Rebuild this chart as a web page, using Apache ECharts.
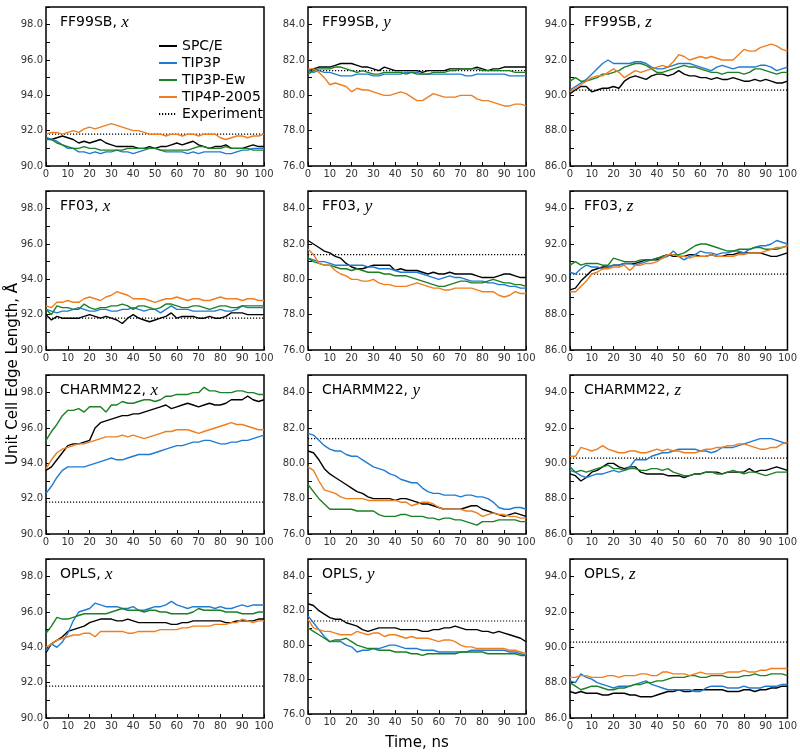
<!DOCTYPE html>
<html>
<head>
<meta charset="utf-8">
<script src="https://cdn.jsdelivr.net/npm/echarts@6/dist/echarts.min.js"></script>
<style>html,body{margin:0;padding:0;background:#fff;}#c{width:800px;height:752px;}</style>
</head>
<body>
<div id="c"></div>
<script>
// ---------- DATA ----------
const TIME = [0,2.5,5,7.5,10,12.5,15,17.5,20,22.5,25,27.5,30,32.5,35,37.5,40,42.5,45,47.5,50,52.5,55,57.5,60,62.5,65,67.5,70,72.5,75,77.5,80,82.5,85,87.5,90,92.5,95,97.5,100];
const WATER_MODELS = ['SPC/E','TIP3P','TIP3P-Ew','TIP4P-2005'];
const FORCE_FIELDS = ['FF99SB','FF03','CHARMM22','OPLS'];
const DIMENSIONS = ['x','y','z'];
const EXPERIMENT = [91.8, 81.4, 90.3];
const Y_MIN = [90, 76, 86];
const X_TICKS = [0,10,20,30,40,50,60,70,80,90,100];

// FF99SB
const ff99sb_x_spce   = [91.6,91.5,91.6,91.7,91.6,91.5,91.3,91.4,91.3,91.4,91.5,91.3,91.2,91.1,91.1,91.1,91.1,91.0,91.0,91.1,91.0,91.1,91.1,91.2,91.3,91.2,91.3,91.4,91.2,91.1,91.0,91.1,91.1,91.2,91.0,91.0,91.0,91.1,91.2,91.1,91.1];
const ff99sb_x_tip3p  = [91.6,91.5,91.4,91.2,91.0,91.0,90.8,90.8,90.7,90.8,90.7,90.8,90.8,90.9,90.8,90.8,90.7,90.8,90.9,91.0,91.0,90.9,90.8,90.8,90.8,90.8,90.7,90.8,90.7,90.8,90.8,90.8,90.8,90.7,90.7,90.8,90.9,90.9,91.0,91.0,91.0];
const ff99sb_x_tip3pew= [91.5,91.5,91.3,91.2,91.1,91.0,91.0,91.1,91.0,91.0,90.9,90.9,90.9,90.9,90.9,91.0,91.0,91.0,91.0,91.0,91.0,90.9,90.9,90.9,90.9,90.9,90.9,91.0,91.1,91.1,91.0,91.0,91.0,91.1,91.0,91.0,91.0,91.0,90.9,90.9,90.9];
const ff99sb_x_tip4p  = [91.8,91.9,91.9,91.8,91.9,92.0,91.9,92.1,92.2,92.1,92.2,92.3,92.4,92.3,92.2,92.1,92.0,92.0,91.9,91.8,91.8,91.8,91.7,91.8,91.8,91.7,91.8,91.8,91.7,91.8,91.8,91.8,91.6,91.5,91.6,91.7,91.7,91.6,91.7,91.7,91.8];

const ff99sb_y_spce   = [81.4,81.5,81.6,81.6,81.6,81.7,81.8,81.8,81.8,81.7,81.6,81.6,81.5,81.4,81.6,81.5,81.4,81.4,81.4,81.4,81.4,81.3,81.4,81.4,81.4,81.4,81.5,81.5,81.5,81.5,81.5,81.6,81.5,81.4,81.5,81.5,81.6,81.6,81.6,81.6,81.6];
const ff99sb_y_tip3p  = [81.4,81.3,81.4,81.3,81.3,81.2,81.1,81.1,81.1,81.2,81.2,81.2,81.1,81.1,81.2,81.2,81.2,81.2,81.3,81.3,81.3,81.2,81.2,81.2,81.2,81.2,81.2,81.2,81.2,81.1,81.1,81.2,81.2,81.2,81.2,81.2,81.2,81.1,81.1,81.1,81.1];
const ff99sb_y_tip3pew= [81.2,81.4,81.5,81.5,81.5,81.6,81.6,81.5,81.4,81.3,81.4,81.3,81.2,81.2,81.3,81.3,81.3,81.3,81.2,81.3,81.2,81.2,81.2,81.3,81.3,81.3,81.4,81.4,81.5,81.5,81.5,81.5,81.4,81.4,81.4,81.4,81.4,81.4,81.3,81.3,81.3];
const ff99sb_y_tip4p  = [81.5,81.5,81.3,81.0,80.6,80.7,80.6,80.5,80.2,80.4,80.3,80.3,80.2,80.1,80.0,80.0,80.1,80.2,80.1,79.9,79.7,79.7,79.9,80.1,80.0,79.9,79.9,79.9,80.0,80.0,80.0,79.8,79.7,79.7,79.6,79.5,79.4,79.4,79.5,79.5,79.4];

const ff99sb_z_spce   = [90.1,90.3,90.5,90.5,90.2,90.3,90.4,90.4,90.5,90.4,90.8,91.0,91.1,91.0,90.9,91.1,91.2,91.2,91.1,91.2,91.4,91.2,91.1,91.1,91.0,91.0,90.9,91.0,90.9,90.9,91.0,90.9,90.8,90.8,90.9,90.8,90.9,90.8,90.7,90.7,90.8];
const ff99sb_z_tip3p  = [90.3,90.5,90.7,90.9,91.2,91.5,91.8,92.0,91.8,91.8,91.8,91.8,91.9,91.9,91.8,91.6,91.5,91.5,91.6,91.7,91.8,91.8,91.8,91.7,91.6,91.5,91.4,91.6,91.7,91.6,91.5,91.6,91.6,91.6,91.6,91.7,91.7,91.6,91.4,91.5,91.6];
const ff99sb_z_tip3pew= [90.8,91.0,90.8,90.8,90.9,91.0,91.2,91.2,91.3,91.4,91.6,91.7,91.8,91.8,91.7,91.5,91.3,91.3,91.4,91.5,91.6,91.7,91.6,91.6,91.5,91.4,91.3,91.3,91.2,91.3,91.3,91.3,91.2,91.3,91.5,91.5,91.4,91.3,91.2,91.3,91.3];
const ff99sb_z_tip4p  = [90.2,90.4,90.6,90.8,91.0,91.1,91.1,91.3,91.5,91.3,91.0,91.2,91.4,91.3,91.4,91.5,91.6,91.7,91.6,91.9,92.3,92.2,92.0,92.1,92.2,92.1,92.2,92.1,92.0,92.0,92.0,92.3,92.6,92.5,92.5,92.7,92.8,92.9,92.8,92.6,92.5];

// FF03
const ff03_x_spce   = [92.0,91.7,91.9,91.8,91.8,91.8,91.8,91.9,92.0,91.9,91.8,91.9,91.8,91.7,91.5,91.8,92.0,91.8,91.7,91.6,91.7,91.8,91.9,92.1,91.8,91.9,91.9,91.9,91.8,91.8,91.9,91.8,91.8,91.9,92.1,92.1,92.1,92.0,92.0,92.0,92.0];
const ff03_x_tip3p  = [92.3,92.2,92.1,92.2,92.2,92.3,92.4,92.3,92.2,92.2,92.3,92.3,92.2,92.2,92.3,92.3,92.4,92.3,92.2,92.3,92.3,92.1,92.3,92.5,92.3,92.3,92.3,92.2,92.2,92.2,92.2,92.2,92.3,92.2,92.2,92.3,92.5,92.4,92.4,92.4,92.4];
const ff03_x_tip3pew= [92.3,92.0,92.5,92.4,92.4,92.3,92.3,92.6,92.4,92.3,92.4,92.4,92.5,92.5,92.6,92.5,92.3,92.5,92.5,92.4,92.3,92.4,92.6,92.6,92.5,92.4,92.4,92.5,92.5,92.4,92.3,92.4,92.5,92.5,92.4,92.4,92.5,92.5,92.5,92.5,92.5];
const ff03_x_tip4p  = [92.5,92.4,92.7,92.7,92.8,92.7,92.7,92.9,93.0,92.9,92.8,93.0,93.1,93.3,93.2,93.1,92.9,92.9,92.9,92.8,92.7,92.8,92.9,92.9,93.0,92.9,92.8,92.9,92.9,92.8,92.8,92.9,93.0,92.9,92.9,92.9,92.8,92.9,92.9,92.8,92.8];

const ff03_y_spce   = [82.2,82.0,81.8,81.6,81.5,81.3,81.2,80.9,80.7,80.6,80.6,80.7,80.8,80.8,80.8,80.8,80.5,80.6,80.5,80.5,80.5,80.4,80.3,80.4,80.3,80.3,80.4,80.3,80.3,80.3,80.3,80.2,80.1,80.1,80.1,80.2,80.3,80.3,80.2,80.1,80.1];
const ff03_y_tip3p  = [81.2,81.1,81.0,81.0,80.9,80.8,80.8,80.8,80.8,80.8,80.8,80.7,80.7,80.6,80.6,80.6,80.5,80.4,80.4,80.4,80.4,80.3,80.2,80.1,80.0,80.1,80.2,80.1,80.1,80.0,79.9,79.9,79.9,79.8,79.8,79.7,79.7,79.6,79.6,79.5,79.5];
const ff03_y_tip3pew= [81.2,81.0,80.9,80.8,80.8,80.7,80.6,80.6,80.5,80.6,80.5,80.4,80.4,80.4,80.3,80.3,80.2,80.2,80.2,80.1,80.0,79.9,79.8,79.7,79.6,79.6,79.7,79.8,79.9,79.9,79.8,79.8,79.8,79.9,80.0,79.9,79.8,79.8,79.7,79.7,79.6];
const ff03_y_tip4p  = [81.7,81.4,80.9,80.8,80.8,80.5,80.3,80.2,80.0,80.0,79.9,79.9,80.0,79.8,79.7,79.7,79.6,79.6,79.6,79.7,79.8,79.7,79.6,79.5,79.5,79.4,79.4,79.5,79.5,79.5,79.5,79.4,79.3,79.3,79.3,79.1,79.0,79.1,79.3,79.2,79.2];

const ff03_z_spce   = [89.4,89.5,89.9,90.2,90.5,90.6,90.7,90.7,90.8,90.8,90.9,90.9,90.9,91.0,91.1,91.1,91.1,91.3,91.4,91.3,91.3,91.3,91.4,91.4,91.3,91.3,91.4,91.3,91.3,91.4,91.4,91.5,91.5,91.5,91.5,91.5,91.4,91.3,91.3,91.4,91.5];
const ff03_z_tip3p  = [90.4,90.3,90.6,90.8,90.7,90.7,90.6,90.7,90.8,90.8,90.9,90.9,90.8,90.9,91.0,91.1,91.2,91.2,91.3,91.6,91.3,91.1,91.3,91.4,91.6,91.5,91.5,91.4,91.5,91.5,91.6,91.6,91.5,91.7,91.8,91.9,91.9,92.0,92.2,92.1,92.0];
const ff03_z_tip3pew= [90.8,91.0,90.8,90.9,90.9,90.9,90.8,90.8,91.2,91.1,91.0,91.0,91.0,91.1,91.1,91.1,91.2,91.3,91.4,91.4,91.4,91.5,91.7,91.9,92.0,92.0,91.9,91.8,91.7,91.6,91.6,91.7,91.7,91.7,91.8,91.8,91.7,91.7,91.7,91.8,91.9];
const ff03_z_tip4p  = [89.3,89.3,89.6,89.9,90.3,90.4,90.6,90.6,90.7,90.7,90.8,90.5,90.8,90.8,90.9,90.9,91.0,91.2,91.4,91.4,91.3,91.3,91.2,91.3,91.3,91.3,91.4,91.3,91.3,91.3,91.3,91.4,91.4,91.5,91.5,91.5,91.6,91.7,91.8,91.8,91.9];

// CHARMM22
const charmm22_x_spce   = [93.6,93.8,94.2,94.6,95.0,95.1,95.1,95.2,95.3,96.0,96.3,96.4,96.5,96.6,96.7,96.7,96.8,96.8,96.9,97.0,97.1,97.2,97.3,97.1,97.2,97.3,97.4,97.3,97.2,97.3,97.4,97.3,97.3,97.4,97.6,97.6,97.6,97.8,97.6,97.5,97.6];
const charmm22_x_tip3p  = [92.3,92.7,93.2,93.6,93.8,93.8,93.8,93.8,93.9,94.0,94.1,94.2,94.3,94.2,94.2,94.3,94.4,94.5,94.5,94.5,94.6,94.7,94.8,94.9,95.0,95.0,95.1,95.2,95.2,95.3,95.3,95.2,95.1,95.1,95.2,95.2,95.3,95.3,95.4,95.5,95.6];
const charmm22_x_tip3pew= [95.3,95.8,96.2,96.7,97.0,97.0,97.1,96.9,97.2,97.2,97.2,96.9,97.3,97.3,97.5,97.4,97.4,97.5,97.6,97.6,97.5,97.6,97.8,97.8,97.9,97.9,97.9,98.0,98.0,98.3,98.1,98.1,98.0,98.0,98.0,98.1,98.1,98.0,98.0,97.9,97.9];
const charmm22_x_tip4p  = [93.7,94.2,94.6,94.8,94.9,95.0,95.1,95.1,95.2,95.3,95.4,95.5,95.5,95.5,95.6,95.5,95.6,95.5,95.4,95.5,95.6,95.7,95.8,95.8,95.9,95.9,95.9,95.8,95.7,95.8,95.9,96.0,96.1,96.2,96.3,96.2,96.2,96.1,96.0,95.9,95.9];

const charmm22_y_spce   = [80.7,80.6,80.2,79.7,79.4,79.2,79.0,78.8,78.6,78.4,78.3,78.1,78.0,78.0,78.0,78.0,77.9,78.0,78.0,77.9,77.8,77.7,77.7,77.6,77.5,77.4,77.4,77.4,77.4,77.5,77.6,77.6,77.4,77.3,77.2,77.1,77.0,77.1,77.2,77.1,77.0];
const charmm22_y_tip3p  = [81.7,81.6,81.3,81.0,80.8,80.7,80.7,80.5,80.4,80.4,80.2,80.0,79.8,79.7,79.6,79.4,79.3,79.1,79.0,78.9,78.9,78.6,78.4,78.3,78.3,78.2,78.2,78.2,78.1,78.2,78.2,78.1,78.1,78.0,77.8,77.5,77.4,77.4,77.5,77.5,77.4];
const charmm22_y_tip3pew= [78.8,78.4,78.0,77.7,77.4,77.4,77.4,77.4,77.4,77.3,77.3,77.3,77.3,77.1,77.0,77.0,77.0,77.1,77.1,77.0,77.0,77.0,76.9,76.9,76.8,76.9,76.9,76.8,76.8,76.7,76.6,76.5,76.7,76.7,76.7,76.8,76.8,76.8,76.8,76.7,76.7];
const charmm22_y_tip4p  = [79.8,79.6,79.0,78.5,78.4,78.3,78.1,78.0,78.0,78.0,78.0,77.9,77.9,77.9,77.9,77.9,77.9,77.8,77.8,77.6,77.7,77.8,77.8,77.7,77.5,77.4,77.4,77.4,77.4,77.3,77.3,77.2,77.0,77.1,77.2,77.1,77.1,77.0,77.0,76.9,76.9];

const charmm22_z_spce   = [89.4,89.3,89.0,89.2,89.5,89.6,89.8,90.0,90.0,89.8,89.7,89.8,89.8,89.5,89.4,89.4,89.4,89.4,89.3,89.3,89.3,89.2,89.3,89.4,89.4,89.5,89.5,89.5,89.4,89.5,89.5,89.5,89.5,89.7,89.5,89.6,89.6,89.7,89.8,89.7,89.6];
const charmm22_z_tip3p  = [89.6,89.5,89.3,89.2,89.3,89.4,89.4,89.5,89.6,89.5,89.6,89.8,90.2,90.2,90.2,90.4,90.5,90.6,90.6,90.7,90.8,90.8,90.8,90.8,90.7,90.7,90.6,90.7,90.9,90.9,90.9,91.0,91.1,91.2,91.3,91.4,91.4,91.4,91.3,91.2,91.1];
const charmm22_z_tip3pew= [89.8,89.5,89.6,89.5,89.6,89.7,89.8,89.9,89.7,89.7,89.6,89.7,89.7,89.6,89.6,89.7,89.7,89.6,89.7,89.5,89.4,89.3,89.3,89.4,89.4,89.5,89.5,89.4,89.4,89.5,89.6,89.5,89.4,89.5,89.5,89.4,89.3,89.4,89.5,89.5,89.5];
const charmm22_z_tip4p  = [90.4,90.4,90.9,90.8,90.7,90.8,91.0,90.8,90.7,90.6,90.6,90.7,90.7,90.6,90.6,90.7,90.8,90.7,90.8,90.7,90.7,90.6,90.6,90.6,90.7,90.8,90.8,90.9,90.9,91.0,91.0,91.1,91.1,91.0,90.9,90.8,90.8,90.9,90.9,91.1,91.2];

// OPLS
const opls_x_spce   = [93.7,94.2,94.4,94.6,94.9,95.0,95.1,95.2,95.4,95.5,95.6,95.6,95.6,95.5,95.5,95.6,95.5,95.4,95.4,95.4,95.4,95.4,95.4,95.3,95.3,95.4,95.4,95.5,95.5,95.5,95.5,95.5,95.5,95.4,95.4,95.5,95.5,95.5,95.5,95.6,95.6];
const opls_x_tip3p  = [93.8,94.2,94.0,94.3,94.8,95.5,96.0,96.1,96.2,96.5,96.4,96.3,96.3,96.3,96.2,96.2,96.3,96.1,96.1,96.2,96.3,96.3,96.4,96.6,96.4,96.3,96.2,96.3,96.3,96.3,96.3,96.2,96.3,96.2,96.2,96.3,96.4,96.3,96.4,96.4,96.4];
const opls_x_tip3pew= [94.8,95.2,95.7,95.6,95.6,95.7,95.8,95.9,95.9,95.9,95.9,95.9,96.0,96.1,96.2,96.1,96.1,96.1,96.0,96.1,96.1,96.0,96.0,95.9,95.9,95.9,95.9,96.0,96.2,96.1,96.1,96.1,96.1,96.0,96.0,96.0,95.9,95.9,95.9,96.0,96.0];
const opls_x_tip4p  = [94.0,94.2,94.4,94.5,94.6,94.7,94.7,94.8,94.8,94.6,94.9,94.9,94.9,94.9,94.9,94.8,94.8,94.9,94.9,94.9,94.9,95.0,95.0,95.0,95.0,95.1,95.1,95.2,95.2,95.2,95.2,95.3,95.3,95.3,95.4,95.4,95.6,95.5,95.4,95.5,95.5];

const opls_y_spce   = [82.4,82.3,82.0,81.8,81.6,81.5,81.5,81.3,81.2,81.1,80.9,80.8,80.9,81.0,81.0,81.0,81.0,80.9,80.9,80.9,80.9,80.8,80.8,80.9,80.9,81.0,81.0,81.1,81.0,80.9,80.9,80.9,80.8,80.8,80.7,80.8,80.7,80.6,80.5,80.4,80.2];
const opls_y_tip3p  = [81.7,81.3,80.9,80.5,80.2,80.2,80.2,80.0,79.9,79.6,79.7,79.7,79.8,79.8,79.9,80.0,80.0,79.9,79.8,79.8,79.8,79.7,79.7,79.7,79.6,79.6,79.6,79.6,79.6,79.6,79.7,79.7,79.7,79.7,79.7,79.7,79.7,79.6,79.6,79.5,79.4];
const opls_y_tip3pew= [81.0,80.8,80.6,80.4,80.2,80.3,80.3,80.4,80.2,80.0,79.9,79.8,79.8,79.7,79.7,79.7,79.6,79.6,79.6,79.5,79.5,79.4,79.5,79.5,79.5,79.5,79.5,79.5,79.6,79.6,79.6,79.6,79.6,79.5,79.5,79.5,79.5,79.5,79.5,79.4,79.4];
const opls_y_tip4p  = [81.5,81.0,80.9,80.8,80.8,80.7,80.6,80.6,80.6,80.8,80.7,80.6,80.7,80.7,80.5,80.6,80.6,80.5,80.4,80.5,80.4,80.4,80.4,80.3,80.2,80.3,80.3,80.2,80.0,79.9,79.9,79.8,79.8,79.8,79.8,79.8,79.8,79.7,79.7,79.6,79.5];

const opls_z_spce   = [87.5,87.4,87.5,87.4,87.4,87.4,87.3,87.3,87.4,87.4,87.4,87.3,87.3,87.2,87.2,87.2,87.3,87.4,87.5,87.5,87.6,87.5,87.5,87.6,87.6,87.6,87.6,87.6,87.6,87.5,87.5,87.5,87.6,87.6,87.5,87.6,87.6,87.7,87.7,87.8,87.8];
const opls_z_tip3p  = [88.1,88.0,88.5,88.3,88.2,88.0,87.9,87.8,87.7,87.8,87.8,87.8,87.9,88.0,88.1,87.9,87.8,87.7,87.6,87.6,87.6,87.6,87.6,87.5,87.5,87.7,87.8,87.8,87.8,87.7,87.7,87.7,87.8,87.7,87.7,87.7,87.8,87.8,87.8,87.9,87.9];
const opls_z_tip3pew= [88.0,87.8,87.6,87.7,87.8,87.8,87.7,87.6,87.6,87.7,87.7,87.8,87.9,87.9,88.0,88.0,88.1,88.1,88.2,88.3,88.3,88.3,88.4,88.4,88.3,88.3,88.4,88.4,88.4,88.3,88.3,88.3,88.4,88.4,88.5,88.4,88.4,88.5,88.5,88.5,88.4];
const opls_z_tip4p  = [88.3,88.3,88.4,88.4,88.3,88.3,88.3,88.4,88.4,88.3,88.4,88.4,88.4,88.5,88.5,88.4,88.4,88.6,88.6,88.5,88.5,88.5,88.4,88.5,88.6,88.5,88.5,88.5,88.5,88.6,88.6,88.6,88.7,88.6,88.6,88.7,88.7,88.8,88.8,88.8,88.8];

const PANEL_DATA = [
  [[ff99sb_x_spce,ff99sb_x_tip3p,ff99sb_x_tip3pew,ff99sb_x_tip4p],
   [ff99sb_y_spce,ff99sb_y_tip3p,ff99sb_y_tip3pew,ff99sb_y_tip4p],
   [ff99sb_z_spce,ff99sb_z_tip3p,ff99sb_z_tip3pew,ff99sb_z_tip4p]],
  [[ff03_x_spce,ff03_x_tip3p,ff03_x_tip3pew,ff03_x_tip4p],
   [ff03_y_spce,ff03_y_tip3p,ff03_y_tip3pew,ff03_y_tip4p],
   [ff03_z_spce,ff03_z_tip3p,ff03_z_tip3pew,ff03_z_tip4p]],
  [[charmm22_x_spce,charmm22_x_tip3p,charmm22_x_tip3pew,charmm22_x_tip4p],
   [charmm22_y_spce,charmm22_y_tip3p,charmm22_y_tip3pew,charmm22_y_tip4p],
   [charmm22_z_spce,charmm22_z_tip3p,charmm22_z_tip3pew,charmm22_z_tip4p]],
  [[opls_x_spce,opls_x_tip3p,opls_x_tip3pew,opls_x_tip4p],
   [opls_y_spce,opls_y_tip3p,opls_y_tip3pew,opls_y_tip4p],
   [opls_z_spce,opls_z_tip3p,opls_z_tip3pew,opls_z_tip4p]]
];

// ---------- STYLE / LAYOUT ----------
const COLORS = ['#000000', '#1f7bd1', '#1b7f24', '#f07d1e'];
const GRID_LEFT = [46, 308, 570];
const GRID_TOP = [7, 191, 375, 559];
const GRID_W = 218, GRID_H = 159;
const FONT = 'DejaVu Sans';

const grids = [], xAxes = [], yAxes = [], series = [], titles = [];
let idx = 0;
for (let r = 0; r < 4; r++) {
  for (let c = 0; c < 3; c++) {
    const ymin = Y_MIN[c];
    grids.push({left: GRID_LEFT[c], top: GRID_TOP[r], width: GRID_W, height: GRID_H,
      show: true, borderColor: '#000', borderWidth: 1.5, backgroundColor: 'transparent', containLabel: false});
    xAxes.push({type: 'value', gridIndex: idx, min: 0, max: 100, interval: 10,
      axisLine: {show: false}, splitLine: {show: false},
      axisTick: {show: true, inside: true, length: 4, lineStyle: {color: '#000'}},
      axisLabel: {fontSize: 10, color: '#333', margin: 3, fontFamily: FONT,
        formatter: v => X_TICKS.indexOf(v) >= 0 ? String(v) : ''},
      name: (r === 3 && c === 1) ? 'Time, ns' : '',
      nameLocation: 'middle', nameGap: 22,
      nameTextStyle: {fontSize: 15, fontFamily: FONT, color: '#000'}});
    yAxes.push({type: 'value', gridIndex: idx, min: ymin, max: ymin + 9, interval: 1,
      axisLine: {show: false}, splitLine: {show: false},
      axisTick: {show: true, inside: true, length: 4, lineStyle: {color: '#000'}},
      axisLabel: {fontSize: 10, color: '#333', margin: 3, fontFamily: FONT,
        formatter: v => ((Math.round(v - ymin) % 2 === 0) && v < ymin + 9) ? v.toFixed(1) : ''}});
    titles.push({text: '{a|' + FORCE_FIELDS[r] + ', }{b|' + DIMENSIONS[c] + '}',
      left: GRID_LEFT[c] + 9, top: GRID_TOP[r] + 2,
      textStyle: {fontWeight: 'normal', rich: {
        a: {fontSize: 14, fontFamily: FONT, fontWeight: 'normal', color: '#000'},
        b: {fontSize: 17, fontFamily: 'Liberation Serif', fontStyle: 'italic', fontWeight: 'normal', color: '#000'}}}});
    series.push({name: 'Experiment', type: 'line', xAxisIndex: idx, yAxisIndex: idx,
      data: [[0, EXPERIMENT[c]], [100, EXPERIMENT[c]]], symbol: 'none', showSymbol: false, silent: true, z: 1,
      lineStyle: {color: '#000', width: 1.2, type: [1.2, 1.8]}, itemStyle: {color: '#000'}});
    const sets = PANEL_DATA[r][c];
    for (let s = 0; s < 4; s++) {
      series.push({name: WATER_MODELS[s], type: 'line', xAxisIndex: idx, yAxisIndex: idx,
        data: TIME.map((t, k) => [t, sets[s][k]]), symbol: 'none', showSymbol: false, z: 2 + s,
        lineStyle: {color: COLORS[s], width: 1.4}, itemStyle: {color: COLORS[s]}});
    }
    idx++;
  }
}

const chart = echarts.init(document.getElementById('c'), null, {renderer: 'canvas'});
chart.setOption({
  animation: false,
  backgroundColor: '#fff',
  title: titles,
  grid: grids, xAxis: xAxes, yAxis: yAxes, series: series,
  legend: {orient: 'vertical', left: 153, top: 34, itemWidth: 18, itemHeight: 14, itemGap: 3,
    itemStyle: {opacity: 0},
    textStyle: {fontSize: 14, fontFamily: FONT, color: '#000'},
    data: WATER_MODELS.concat(['Experiment']), selectedMode: false},
  graphic: [{type: 'text', x: 13, y: 374, rotation: Math.PI / 2,
    style: {text: 'Unit Cell Edge Length, Å', fontSize: 15, fontFamily: FONT, fill: '#000',
      textAlign: 'center', textVerticalAlign: 'middle'}}]
});
</script>
</body>
</html>
